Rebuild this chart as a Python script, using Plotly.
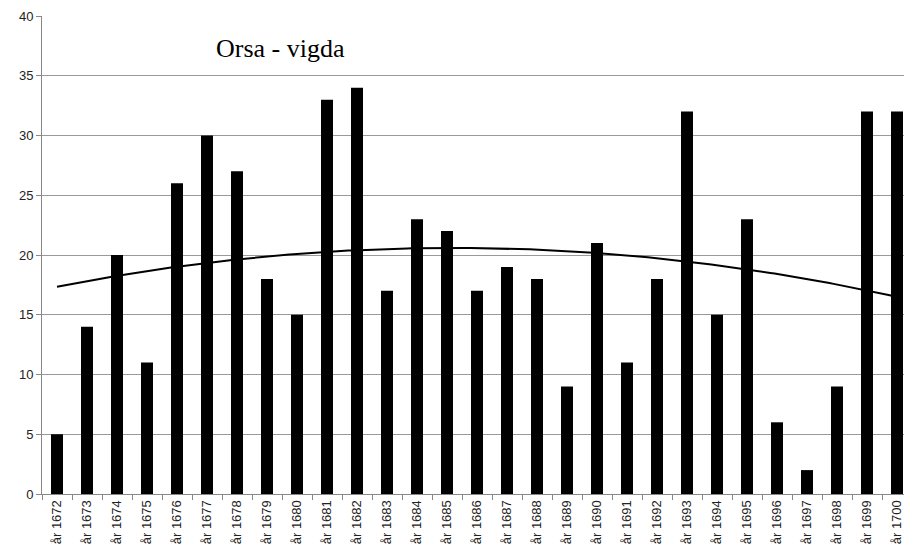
import numpy as np
import plotly.graph_objects as go

# årtal och antal vigda
years = list(range(1672, 1701))
labels = ["år %d" % y for y in years]
vigda = [5, 14, 20, 11, 26, 30, 27, 18, 15, 33, 34, 17, 23, 22, 17,
         19, 18, 9, 21, 11, 18, 32, 15, 23, 6, 2, 9, 32, 32]

# polynomisk trendlinje (grad 2), som i Excel
xs = np.arange(1, len(vigda) + 1)
coef = np.polyfit(xs, vigda, 2)
xfine = np.linspace(1, len(vigda), 200)
trend = np.polyval(coef, xfine)

fig = go.Figure()
fig.add_trace(go.Bar(x=labels, y=vigda, marker_color="black", width=0.4,
                     marker_line_width=0))
fig.add_trace(go.Scatter(x=xfine, y=trend, mode="lines", xaxis="x2",
                         line=dict(color="black", width=2)))

fig.add_annotation(text="Orsa - vigda", x=0.274, y=0.933, xref="paper", yref="paper",
                   showarrow=False, xanchor="center", yanchor="middle",
                   font=dict(family="Liberation Serif", size=26, color="black"))

# sidan har 8 px marginal, därför 904 x 550
fig.update_layout(
    width=904, height=550,
    margin=dict(l=34, r=0, t=8, b=64),
    plot_bgcolor="white", paper_bgcolor="white",
    showlegend=False,
    font=dict(family="Liberation Sans, Arial", size=13, color="#222"),
    xaxis2=dict(overlaying="x", range=[0.5, len(vigda) + 0.5], visible=False),
)
fig.update_layout(xaxis=dict(type="category", tickangle=-90, automargin=False,
                             tickfont=dict(size=13), showgrid=False, showline=True,
                             linecolor="#888", linewidth=1, ticks="outside",
                             tickson="boundaries", ticklen=5, tickcolor="#888",
                             zeroline=False))
fig.update_yaxes(
    range=[0, 40], dtick=5, automargin=False,
    showgrid=True, gridcolor="#999", gridwidth=1,
    showline=True, linecolor="#888", linewidth=1,
    ticks="outside", ticklen=5, tickcolor="#888",
    zeroline=False, tickfont=dict(size=13),
)

fig.write_html("out.html")
